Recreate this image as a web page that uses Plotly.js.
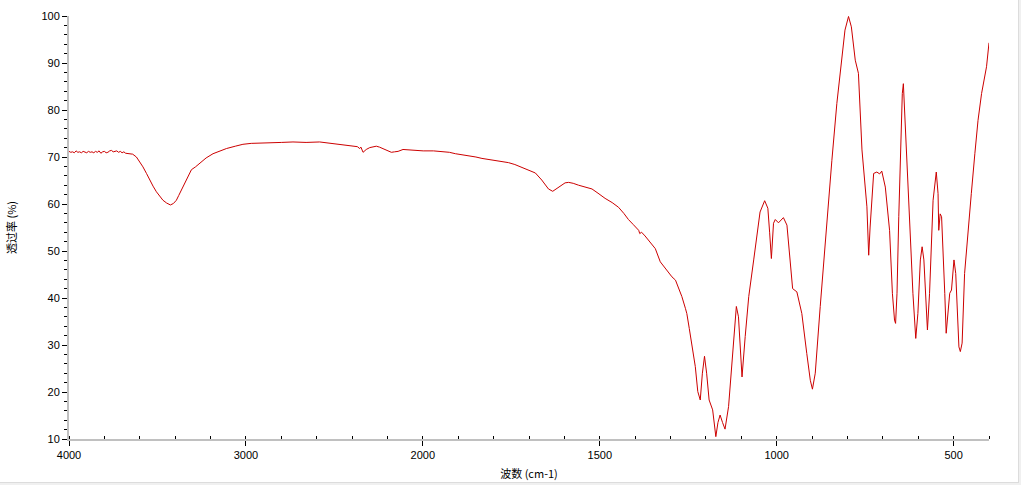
<!DOCTYPE html>
<html>
<head>
<meta charset="utf-8">
<script src="https://cdn.plot.ly/plotly-3.0.1.min.js"></script>
<style>
  html, body { margin: 0; padding: 0; background: #f0f0f0; }
  #ir-chart {
    width: 1018px;
    height: 482px;
    background: #ffffff;
    border-right: 1px solid #dcdcdc;
    border-bottom: 1px solid #dcdcdc;
  }
</style>
</head>
<body>
<div id="ir-chart"></div>
<script>
// 波数 (cm-1)，由高至低
const wavenumbers = [
    4000, 3990, 3980, 3970, 3960, 3950, 3940, 3930, 3920, 3910,
    3900, 3890, 3880, 3870, 3860, 3850, 3840, 3830, 3820, 3810,
    3800, 3790, 3780, 3770, 3760, 3750, 3740, 3730, 3720, 3710,
    3700, 3690, 3680, 3668, 3640, 3619, 3600, 3582, 3562, 3544,
    3525, 3506, 3488, 3469, 3448, 3427, 3410, 3393, 3380, 3365,
    3350, 3336, 3320, 3308, 3285, 3261, 3225, 3186, 3150, 3110,
    3060, 3017, 2970, 2922, 2860, 2800, 2734, 2660, 2583, 2540,
    2508, 2450, 2395, 2370, 2357, 2350, 2338, 2320, 2300, 2280,
    2263, 2245, 2225, 2200, 2178, 2160, 2140, 2112, 2074, 2040,
    1999, 1970, 1946, 1925, 1908, 1890, 1871, 1850, 1833, 1815,
    1795, 1775, 1758, 1740, 1720, 1700, 1682, 1664, 1645, 1633,
    1617, 1598, 1588, 1575, 1560, 1540, 1522, 1505, 1485, 1465,
    1447, 1432, 1419, 1405, 1390, 1387, 1382, 1372, 1362, 1352,
    1343, 1329, 1315, 1305, 1296, 1286, 1277, 1268, 1258, 1254,
    1247, 1240, 1230, 1223, 1216, 1210, 1204, 1198, 1191, 1181,
    1172, 1166, 1160, 1153, 1146, 1136, 1127, 1114, 1108, 1098,
    1089, 1079, 1065, 1056, 1047, 1034, 1025, 1020, 1015, 1009,
    1004, 995, 981, 971, 962, 955, 943, 929, 915, 905,
    899, 891, 877, 863, 849, 844, 830, 816, 807, 797,
    789, 778, 769, 759, 745, 740, 736, 726, 717, 709,
    703, 693, 686, 681, 673, 667, 664, 660, 655, 650,
    645, 642, 639, 634, 629, 622, 615, 607, 601, 594,
    589, 584, 579, 574, 568, 563, 558, 549, 544, 542,
    538, 534, 530, 525, 521, 516, 511, 506, 499, 494,
    489, 485, 481, 476, 469, 459, 450, 440, 431, 421,
    407, 400
];

// 透过率 (%)
const transmittance = [
    71.2, 71.0, 71.1, 70.9, 71.3, 71.0, 71.1, 70.9, 71.2, 71.0,
    70.9, 71.2, 71.0, 71.1, 70.9, 71.2, 71.0, 71.3, 70.8, 71.1,
    71.2, 70.9, 71.0, 71.3, 71.4, 71.1, 71.2, 71.3, 71.0, 71.2,
    70.9, 71.1, 70.8, 70.7, 70.6, 70.0, 69.0, 67.9, 66.5, 65.1,
    63.8, 62.6, 61.6, 60.8, 60.2, 59.8, 60.1, 60.8, 61.8, 63.0,
    64.3, 65.4, 66.6, 67.3, 67.9, 68.6, 69.8, 70.7, 71.3, 71.8,
    72.3, 72.7, 72.9, 73.0, 73.1, 73.1, 73.2, 73.1, 73.2, 73.0,
    72.9, 72.7, 72.4, 72.2, 71.8, 72.1, 71.0, 71.6, 72.0, 72.2,
    72.3, 72.1, 71.8, 71.3, 71.0, 71.1, 71.2, 71.6, 71.5, 71.4,
    71.3, 71.3, 71.2, 71.0, 70.7, 70.5, 70.3, 70.0, 69.7, 69.5,
    69.3, 69.1, 68.8, 68.4, 67.8, 67.2, 66.6, 65.1, 63.2, 62.7,
    63.6, 64.5, 64.6, 64.4, 64.0, 63.6, 63.2, 62.3, 61.2, 60.3,
    59.3, 58.0, 56.7, 55.6, 54.4, 53.7, 54.0, 53.2, 52.3, 51.3,
    50.5, 47.7, 46.3, 45.3, 44.5, 43.8, 42.2, 40.3, 37.8, 36.7,
    33.5, 30.0, 25.4, 20.1, 18.3, 24.0, 27.6, 24.0, 18.3, 16.2,
    10.5, 13.5, 15.1, 13.5, 12.1, 16.9, 25.4, 38.2, 36.0, 23.2,
    31.8, 40.3, 48.1, 53.5, 58.3, 60.7, 59.1, 54.0, 48.4, 55.9,
    56.7, 56.0, 57.1, 55.5, 48.1, 42.0, 41.3, 36.7, 28.2, 22.5,
    20.6, 24.0, 38.2, 52.3, 64.4, 69.3, 81.4, 90.6, 97.0, 99.9,
    97.7, 90.6, 87.8, 71.5, 59.4, 49.1, 55.1, 66.5, 66.8, 66.4,
    67.0, 63.6, 58.5, 54.4, 41.0, 35.3, 34.6, 41.0, 57.3, 70.7,
    83.5, 85.6, 80.7, 72.9, 62.9, 51.6, 41.0, 31.4, 36.7, 48.1,
    50.9, 48.1, 41.0, 33.2, 41.0, 52.3, 60.8, 66.8, 62.2, 54.4,
    57.9, 57.3, 50.9, 41.0, 32.5, 36.7, 41.0, 41.7, 48.1, 45.2,
    36.7, 29.6, 28.6, 30.4, 45.2, 55.1, 62.2, 70.7, 77.8, 83.5,
    89.2, 94.3
];

// 橫軸刻度標籤 (波數)
const majorTickLabels = [4000, 3000, 2000, 1500, 1000, 500];

// 2000 以上的區段壓縮為一半比例
function toAxis(wn) {
    return wn > 2000 ? 2000 + (wn - 2000) / 2 : wn;
}

const minorTickVals = [];
for (let u = 400; u <= 3000; u += 100) {
    minorTickVals.push(u);
}

const trace = {
    x: wavenumbers.map(toAxis),
    y: transmittance,
    type: 'scatter',
    mode: 'lines',
    line: { color: '#cc0000', width: 1 },
    hoverinfo: 'skip'
};

const layout = {
    width: 1018,
    height: 482,
    margin: { l: 69, r: 29, t: 16, b: 43 },
    paper_bgcolor: '#ffffff',
    plot_bgcolor: '#ffffff',
    showlegend: false,
    font: { family: 'Liberation Sans, Arial, sans-serif', size: 11, color: '#000000' },
    xaxis: {
        range: [3000, 400],
        showgrid: false,
        zeroline: false,
        showline: true,
        linecolor: '#c0c0c0',
        linewidth: 2,
        ticks: 'outside',
        ticklen: 5,
        tickwidth: 1,
        tickcolor: '#000000',
        tickmode: 'array',
        tickvals: majorTickLabels.map(toAxis),
        ticktext: majorTickLabels.map(String),
        minor: {
            tickmode: 'array',
            tickvals: minorTickVals,
            ticks: 'inside',
            ticklen: 3,
            tickcolor: '#000000',
            showgrid: false
        },
        title: {
            text: '波数 (cm-1)',
            font: { family: 'Noto Sans CJK SC, sans-serif', size: 11, color: '#000000' },
            standoff: 10
        }
    },
    yaxis: {
        range: [10, 100],
        showgrid: false,
        zeroline: false,
        showline: true,
        linecolor: '#c0c0c0',
        linewidth: 2,
        ticks: 'outside',
        ticklen: 5,
        tickwidth: 1,
        tickcolor: '#000000',
        dtick: 10,
        tick0: 0,
        minor: {
            dtick: 2,
            ticks: 'outside',
            ticklen: 3,
            tickcolor: '#000000',
            showgrid: false
        },
        title: {
            text: '透过率 (%)',
            font: { family: 'Noto Sans CJK SC, sans-serif', size: 11, color: '#000000' },
            standoff: 23
        }
    }
};

Plotly.newPlot('ir-chart', [trace], layout, { displayModeBar: false, staticPlot: true });
</script>
</body>
</html>
